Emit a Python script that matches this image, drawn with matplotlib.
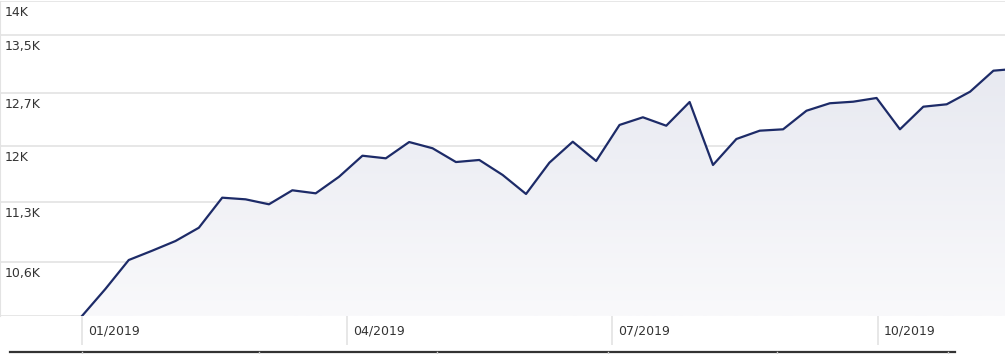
import numpy as np
import matplotlib; matplotlib.use('Agg')
import matplotlib.pyplot as plt
import matplotlib.transforms as mtransforms
from matplotlib.colors import LinearSegmentedColormap
from matplotlib.lines import Line2D

# Series values (one point per period)
values = [10000, 10293, 10617, 10723, 10835, 10990, 11349, 11329, 11269, 11439,
          11402, 11606, 11870, 11837, 12045, 11965, 11790, 11816, 11628, 11394,
          11782, 12049, 11803, 12267, 12368, 12257, 12572, 11753, 12084, 12192,
          12210, 12455, 12555, 12576, 12626, 12210, 12509, 12541, 12711, 13000,
          13028]

# Axis labels
y_ticks = [10600, 11300, 12000, 12700, 13500, 14000]
y_labels = ['10,6K', '11,3K', '12K', '12,7K', '13,5K', '14K']
x_ticks = [0, 11.34, 22.68, 34.06]
x_labels = ['01/2019', '04/2019', '07/2019', '10/2019']

W, H = 1005, 354
fig = plt.figure(figsize=(W / 100, H / 100), dpi=100)
ax = fig.add_axes([0, (H - 316) / H, 1, (316 - 1.4) / H])

x = np.arange(len(values))
ax.set_yscale('log')
ax.set_ylim(10000, 14000)
ax.set_xlim(-82 / 23.37, (W - 82) / 23.37)

grid_c = '#e3e3e3'
for t in [10000] + y_ticks:
    ax.axhline(t, color=grid_c, lw=1.2, zorder=1)

# gradient area under the line
poly = ax.fill_between(x, values, 10000, facecolor='none', edgecolor='none')
cmap = LinearSegmentedColormap.from_list('g', ['#f9f9fb', '#e3e5ee'])
grad = np.linspace(0, 1, 256).reshape(-1, 1)
img = ax.imshow(grad, extent=[0, 1, 0, 1], transform=ax.transAxes, origin='lower',
                cmap=cmap, aspect='auto', zorder=2)
img.set_clip_path(poly.get_paths()[0], transform=ax.transData)

ax.plot(x, values, color='#1d2b68', lw=1.6, zorder=3)

# y labels inside plot, just below each gridline
trans_y = mtransforms.offset_copy(ax.get_yaxis_transform(), fig=fig, x=5, y=-5, units='dots')
for t, lab in zip(y_ticks, y_labels):
    ax.text(0, t, lab, transform=trans_y, ha='left', va='top', fontsize=9,
            color='#333333', family='DejaVu Sans')

ax.set_yticks([])
ax.yaxis.set_minor_locator(matplotlib.ticker.NullLocator())
ax.set_xticks(x_ticks)
ax.set_xticklabels([])
ax.tick_params(axis='x', length=21, width=1.2, color=grid_c, direction='out')

trans_x = mtransforms.offset_copy(ax.get_xaxis_transform(), fig=fig, x=6, y=-15, units='dots')
for t, lab in zip(x_ticks, x_labels):
    ax.text(t, 0, lab, transform=trans_x, ha='left', va='center', fontsize=9,
            color='#333333', family='DejaVu Sans', clip_on=False)

for s in ['top', 'right', 'bottom']:
    ax.spines[s].set_visible(False)
ax.spines['left'].set_color(grid_c)
ax.patch.set_alpha(0)

# navigator line at the bottom
yb = 1 - 352 / H
fig.add_artist(Line2D([10 / W, 955 / W], [yb, yb], color='#333333', lw=1.6))
for px in [82, 259, 437, 608, 777, 948]:
    fig.add_artist(Line2D([px / W, px / W], [yb, 0], color='#cccccc', lw=1))

fig.savefig('out.png', dpi=100)
